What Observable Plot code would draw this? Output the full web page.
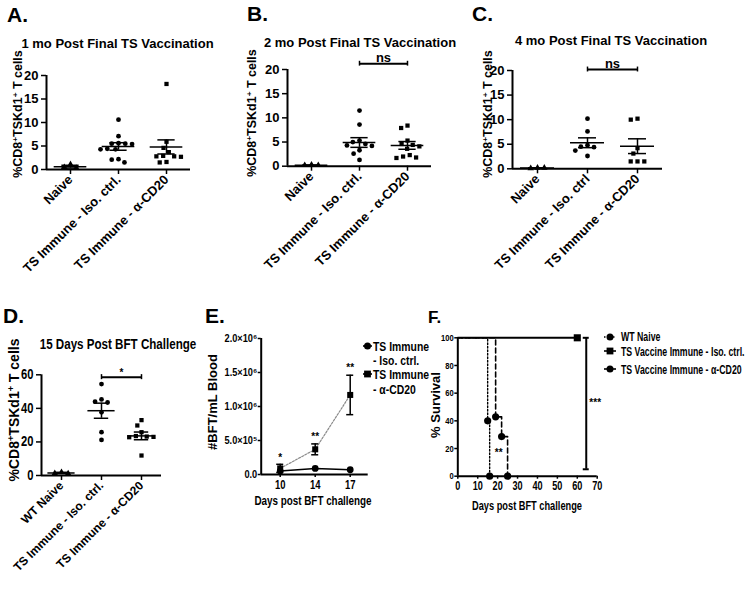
<!DOCTYPE html>
<html><head><meta charset="utf-8">
<script src="https://cdn.jsdelivr.net/npm/d3@7"></script>
<script src="https://cdn.jsdelivr.net/npm/@observablehq/plot@0.6"></script>
<style>
body{margin:0;background:#fff;}
#root{position:relative;width:750px;height:590px;overflow:hidden;background:#fff;font-family:'Liberation Sans',Arial,sans-serif;font-weight:bold;color:#000;}
.abs{position:absolute;white-space:nowrap;line-height:1;}
.abs sup{font-size:0.65em;line-height:0;vertical-align:0.5em;}
.chart{position:absolute;}
</style></head>
<body><div id="root"></div>
<script>
// ---------------- DATA ----------------
const catsA = ["Naive", "TS Immune - Iso. ctrl.", "TS Immune - α-CD20"];
const aNaive = [1.1, 0.5, 0.3];
const aIso = [10.6, 7.1, 5.6, 5.5, 5.5, 5.4, 4.4, 4.3, 4.3, 2.2, 2.1, 1.5];
const aCD20 = [18.2, 5.9, 4.6, 3.7, 2.9, 2.8, 2.8, 2.7, 1.6, 1.5];
const aMean = [0.6, 4.9, 4.8];
const aSem = [0.3, 0.8, 1.5];

const catsB = ["Naive", "TS Immune - Iso. ctrl.", "TS Immune - α-CD20"];
const bNaive = [0.3, 0.2, 0.2];
const bIso = [11.5, 8.6, 5.3, 5.0, 4.6, 4.3, 4.2, 3.3, 2.6, 1.3];
const bCD20 = [8.4, 7.9, 5.3, 4.6, 4.4, 4.1, 3.6, 2.3, 2.0, 1.8, 1.7];
const bMean = [0.2, 4.9, 4.3];
const bSem = [0.05, 1.0, 0.8];

const catsC = ["Naive", "TS Immune - Iso. ctrl", "TS Immune - α-CD20"];
const cNaive = [0.2, 0.1, 0.2];
const cIso = [10.2, 7.6, 4.8, 4.5, 4.4, 3.7, 2.6];
const cCD20 = [10.2, 10.0, 4.2, 3.1, 1.5, 1.5, 1.5];
const cMean = [0.15, 5.3, 4.6];
const cSem = [0.05, 1.0, 1.5];

const catsD = ["WT Naive", "TS Immune - Iso. ctrl.", "TS Immune - α-CD20"];
const dNaive = [2.0, 1.3, 1.2];
const dIso = [54.5, 45.3, 44.0, 43.5, 37.7, 25.8, 21.2];
const dCD20 = [33.0, 29.8, 25.8, 23.5, 23.2, 23.0, 22.8, 11.9];
const dMean = [1.5, 38.6, 23.6];
const dSem = [0.4, 4.5, 2.3];

const ticks20 = [0, 5, 10, 15, 20];
const ticks60 = [0, 20, 40, 60];

const eDays = [10, 14, 17];
const eIsoMean = [0.05e6, 0.09e6, 0.07e6];
const eCD20Mean = [0.09e6, 0.37e6, 1.17e6];
const eCD20Sem = [0.06e6, 0.08e6, 0.29e6];
const eSig = ["*", "**", "**"];
const eYTicks = [0, 5e5, 1e6, 1.5e6, 2e6];
const eYTickLabels = ["0.0", "5.0×10⁵", "1.0×10⁶", "1.5×10⁶", "2.0×10⁶"];

const fNaiveDays = [0, 15, 16];
const fNaiveSurv = [100, 40, 0];
const fIsoDays = [0, 60];
const fIsoSurv = [100, 100];
const fCD20Days = [0, 19, 22, 25];
const fCD20Surv = [100, 42.9, 28.6, 0];
const fXTicks = [0, 10, 20, 30, 40, 50, 60, 70];
const fYTicks = [0, 20, 40, 60, 80, 100];

// ---------------- HELPERS ----------------
const root = document.getElementById("root");
const SANS = "'Liberation Sans', Arial, sans-serif";

function txt(html, x, y, {size = 12, k = 1, align = "center", rotate = 0} = {}) {
  const d = document.createElement("div");
  d.className = "abs";
  d.innerHTML = html;
  d.style.left = x + "px";
  d.style.top = y + "px";
  d.style.fontSize = size + "px";
  const tx = align === "center" ? "-50%" : align === "right" ? "-100%" : "0";
  if (align === "left") d.style.transformOrigin = "0 50%";
  d.style.transform = `translate(${tx},-50%)` + (rotate ? ` rotate(${rotate}deg)` : "") + (k !== 1 ? ` scaleX(${k})` : "");
  root.appendChild(d);
}
function place(svg, left, top) {
  const d = document.createElement("div");
  d.className = "chart";
  d.style.left = left + "px";
  d.style.top = top + "px";
  d.appendChild(svg);
  root.appendChild(d);
  return svg;
}
// squeeze svg text horizontally (condensed lettering of the original figure)
function condense(nodes, k) {
  nodes.forEach(t => {
    const w = t.getComputedTextLength();
    if (w > 0) { t.setAttribute("textLength", (w * k).toFixed(2)); t.setAttribute("lengthAdjust", "spacingAndGlyphs"); }
  });
}
function legendSym(x, y, kind, dash, half = 6) {
  const d = document.createElement("div");
  d.className = "chart";
  d.style.left = (x - half) + "px";
  d.style.top = (y - 5) + "px";
  const shape = kind === "circle"
    ? `<circle cx="${half}" cy="5" r="3.5" fill="black"/>`
    : `<rect x="${half - 3.4}" y="1.6" width="6.8" height="6.8" fill="black"/>`;
  d.innerHTML = `<svg width="${2 * half}" height="10" style="overflow:visible;display:block">
    <line x1="0" y1="5" x2="${2 * half}" y2="5" stroke="black" stroke-width="1.6" ${dash ? `stroke-dasharray="${dash}"` : ""}/>${shape}</svg>`;
  root.appendChild(d);
}

function scatterPanel(o) {
  const {cats, groups, means, sems, yMax, yTicks, width, height, mL, mR, mT, mB,
         tickSize = 13, catSize = 13, sig, sigY, capH, sigSize = 13, sigDy = -2, r = 2.4} = o;
  const rows = [];
  groups.forEach((vals, gi) => vals.forEach(v => rows.push({g: cats[gi], gi, v})));
  const stats = cats.map((g, i) => ({g, mean: means[i], sem: sems[i]}));
  const symbols = ["triangle", "circle", "square"];
  const marks = [
    Plot.ruleY([0], {strokeWidth: 2}),
    Plot.ruleX([0], {fx: () => cats[0], x: () => -1, y1: () => 0, y2: () => yMax, strokeWidth: 2}),
    Plot.axisY({ticks: yTicks, tickSize: 5, tickPadding: 3, fontSize: tickSize, label: null, strokeWidth: 1.5}),
    Plot.axisFx({anchor: "bottom", tickRotate: -45, tickSize: 5, tickPadding: 3, fontSize: catSize, label: null, strokeWidth: 1.5}),
    Plot.ruleY(stats, {fx: "g", y: "mean", x1: () => -0.68, x2: () => 0.68, strokeWidth: 1.5}),
    Plot.ruleX(stats, {fx: "g", x: () => 0, y1: d => d.mean - d.sem, y2: d => d.mean + d.sem, strokeWidth: 1.5}),
    Plot.ruleY(stats, {fx: "g", y: d => d.mean + d.sem, x1: () => -0.36, x2: () => 0.36, strokeWidth: 1.5}),
    Plot.ruleY(stats, {fx: "g", y: d => d.mean - d.sem, x1: () => -0.36, x2: () => 0.36, strokeWidth: 1.5}),
    Plot.dot(rows, Plot.dodgeX({anchor: "middle", padding: 2, fx: "g", y: "v", r, fill: "black", stroke: "none", symbol: d => symbols[d.gi]}))
  ];
  if (sig) {
    marks.push(
      Plot.ruleY([sigY], {fx: () => cats[1], y: d => d, x1: () => 0, x2: () => 2, strokeWidth: 2}),
      Plot.ruleX([0, 2], {fx: () => cats[1], x: d => d, y1: () => sigY - capH, y2: () => sigY + capH, strokeWidth: 1.5}),
      Plot.text([sig], {fx: () => cats[1], x: () => 1, y: () => sigY, text: d => d, lineAnchor: "bottom", dy: sigDy, fontSize: sigSize})
    );
  }
  return Plot.plot({
    width, height, marginLeft: mL, marginRight: mR, marginTop: mT, marginBottom: mB,
    fx: {domain: cats, padding: 0, axis: null},
    x: {domain: [-1, 1], axis: null},
    y: {domain: [0, yMax], axis: null},
    style: {fontFamily: SANS, fontWeight: "bold", background: "none", overflow: "visible", color: "black"},
    marks
  });
}

// ---------------- PANEL A ----------------
place(scatterPanel({cats: catsA, groups: [aNaive, aIso, aCD20], means: aMean, sems: aSem, yMax: 20, yTicks: ticks20,
  width: 235, height: 250, mL: 45, mR: 45, mT: 35, mB: 121}), 0, 40);
txt("A.", 7, 14, {size: 21, align: "left"});
txt("1 mo Post Final TS Vaccination", 117.5, 43.3, {size: 13});
txt("%CD8<sup>+</sup>TSKd1<sup>+</sup> T cells", 17.5, 114, {size: 12.5, rotate: -90});

// ---------------- PANEL B ----------------
place(scatterPanel({cats: catsB, groups: [bNaive, bIso, bCD20], means: bMean, sems: bSem, yMax: 20, yTicks: ticks20,
  width: 230, height: 250, mL: 40.7, mR: 43.3, mT: 39, mB: 114.3, sig: "ns", sigY: 21.2, capH: 0.5, sigDy: -2}), 245, 30);
txt("B.", 247, 13, {size: 21, align: "left"});
txt("2 mo Post Final TS Vaccination", 360, 41.7, {size: 13});
txt("%CD8<sup>+</sup>TSKd1<sup>+</sup> T cells", 252, 113, {size: 12.5, rotate: -90});

// ---------------- PANEL C ----------------
place(scatterPanel({cats: catsC, groups: [cNaive, cIso, cCD20], means: cMean, sems: cSem, yMax: 20, yTicks: ticks20,
  width: 240, height: 250, mL: 41.7, mR: 48.3, mT: 40, mB: 111.7, sig: "ns", sigY: 20.2, capH: 0.5, sigDy: -2}), 470, 30);
txt("C.", 472, 13, {size: 21, align: "left"});
txt("4 mo Post Final TS Vaccination", 611, 40.3, {size: 13});
txt("%CD8<sup>+</sup>TSKd1<sup>+</sup> T cells", 488, 114, {size: 12.5, rotate: -90});

// ---------------- PANEL D ----------------
{
  const svg = place(scatterPanel({cats: catsD, groups: [dNaive, dIso, dCD20], means: dMean, sems: dSem, yMax: 60, yTicks: ticks60,
    width: 200, height: 260, mL: 40, mR: 37.7, mT: 44.3, mB: 115, tickSize: 14, catSize: 12,
    sig: "*", sigY: 58.6, capH: 1.5, sigSize: 10, sigDy: -1}), 0, 330);
  condense(svg.querySelectorAll('g[aria-label="y-axis tick label"] text'), 0.8);
}
txt("D.", 3, 314.5, {size: 21, align: "left"});
txt("15 Days Post BFT Challenge", 118, 343.8, {size: 14.5, k: 0.8});
txt("%CD8<sup>+</sup>TSKd1<sup>+</sup> T cells", 14, 410, {size: 14, rotate: -90});

// ---------------- PANEL E ----------------
{
  const isoRows = eDays.map((d, i) => ({i, v: eIsoMean[i]}));
  const cdRows = eDays.map((d, i) => ({i, v: eCD20Mean[i], s: eCD20Sem[i], sig: eSig[i]}));
  const x0 = -0.543;
  const svg = place(Plot.plot({
    width: 215, height: 190, marginLeft: 55.7, marginRight: 52.3, marginTop: 8, marginBottom: 46,
    x: {domain: [x0, 2.514], axis: null},
    y: {domain: [0, 2e6], axis: null},
    style: {fontFamily: SANS, fontWeight: "bold", background: "none", overflow: "visible", color: "black"},
    marks: [
      Plot.ruleY([0], {strokeWidth: 2}),
      Plot.ruleX([x0], {strokeWidth: 2}),
      Plot.axisY({ticks: eYTicks, tickFormat: d => eYTickLabels[eYTicks.indexOf(d)], tickSize: 3, tickPadding: 1, fontSize: 11.5, label: null, strokeWidth: 1.5}),
      Plot.axisX({ticks: [0, 1, 2], tickFormat: i => eDays[i], tickSize: 3, tickPadding: 1.5, fontSize: 13.5, label: null, strokeWidth: 1.5}),
      Plot.line(cdRows, {x: "i", y: "v", stroke: "#8a8a8a", strokeWidth: 1.2, strokeDasharray: "2,1.5"}),
      Plot.line(isoRows, {x: "i", y: "v", stroke: "black", strokeWidth: 1.5}),
      Plot.ruleX(cdRows, {x: "i", y1: d => d.v - d.s, y2: d => d.v + d.s, strokeWidth: 1.5}),
      Plot.ruleY(cdRows, {y: d => d.v + d.s, x1: d => d.i - 0.1, x2: d => d.i + 0.1, strokeWidth: 1.5}),
      Plot.ruleY(cdRows, {y: d => d.v - d.s, x1: d => d.i - 0.1, x2: d => d.i + 0.1, strokeWidth: 1.5}),
      Plot.dot(isoRows, {x: "i", y: "v", r: 3.4, fill: "black", stroke: "none"}),
      Plot.dot(cdRows, {x: "i", y: "v", r: 3.4, symbol: "square", fill: "black", stroke: "none"}),
      Plot.text(cdRows, {x: "i", y: d => d.v + d.s, text: "sig", dy: -7, fontSize: 10})
    ]
  }), 205, 330);
  condense(svg.querySelectorAll('g[aria-label="x-axis tick label"] text'), 0.7);
  condense(svg.querySelectorAll('g[aria-label="y-axis tick label"] text'), 0.8);
}
txt("E.", 205, 315, {size: 21, align: "left"});
txt("#BFT/mL Blood", 212, 401.7, {size: 13, rotate: -90});
txt("Days post BFT challenge", 313, 500.5, {size: 13.5, k: 0.73});
legendSym(367.5, 345.7, "circle", null, 4.5);
txt("TS Immune", 372.5, 345.7, {size: 13, k: 0.8, align: "left"});
txt("- Iso. ctrl.", 372.5, 360.2, {size: 13, k: 0.8, align: "left"});
legendSym(367.5, 373.8, "square", null, 4.5);
txt("TS Immune", 372.5, 373.8, {size: 13, k: 0.8, align: "left"});
txt("- α-CD20", 372.5, 388.7, {size: 13, k: 0.8, align: "left"});

// ---------------- PANEL F ----------------
{
  const naive = fNaiveDays.map((d, i) => ({d, s: fNaiveSurv[i]}));
  const iso = fIsoDays.map((d, i) => ({d, s: fIsoSurv[i]}));
  const cd = fCD20Days.map((d, i) => ({d, s: fCD20Surv[i]}));
  const svg = place(Plot.plot({
    width: 190, height: 200, marginLeft: 37.3, marginRight: 13.3, marginTop: 17.3, marginBottom: 44.3,
    x: {domain: [0, 70], axis: null},
    y: {domain: [0, 100], axis: null},
    style: {fontFamily: SANS, fontWeight: "bold", background: "none", overflow: "visible", color: "black"},
    marks: [
      Plot.ruleY([0], {strokeWidth: 2}),
      Plot.ruleX([0], {strokeWidth: 2}),
      Plot.axisX({ticks: fXTicks, tickSize: 3, tickPadding: 2, fontSize: 13, label: null, strokeWidth: 1.5}),
      Plot.axisY({ticks: fYTicks, tickSize: 3, tickPadding: 1, fontSize: 9.5, label: null, strokeWidth: 1.5}),
      Plot.line(iso, {x: "d", y: "s", curve: "step-after", strokeWidth: 2}),
      Plot.line(cd, {x: "d", y: "s", curve: "step-after", strokeWidth: 1.6, strokeDasharray: "5,3"}),
      Plot.line(naive, {x: "d", y: "s", curve: "step-after", strokeWidth: 1.4, strokeDasharray: "1.5,2"}),
      Plot.dot(naive.slice(1), {x: "d", y: "s", r: 3.6, fill: "black", stroke: "none"}),
      Plot.dot(cd.slice(1), {x: "d", y: "s", r: 3.6, fill: "black", stroke: "none"}),
      Plot.dot(iso.slice(1), {x: "d", y: "s", r: 4, symbol: "square", fill: "black", stroke: "none"}),
      Plot.ruleX([64.5], {y1: 5, y2: 100, strokeWidth: 2}),
      Plot.ruleY([5, 100], {x1: 63, x2: 66, strokeWidth: 2}),
      Plot.text(["***"], {x: () => 69, y: () => 53, text: d => d, fontSize: 10}),
      Plot.text(["**"], {x: () => 20.5, y: () => 17, text: d => d, fontSize: 10})
    ]
  }), 420, 320);
  condense(svg.querySelectorAll('g[aria-label="x-axis tick label"] text'), 0.7);
  condense(svg.querySelectorAll('g[aria-label="y-axis tick label"] text'), 0.8);
}
txt("F.", 428, 317, {size: 17, align: "left"});
txt("% Survival", 435, 405, {size: 13, rotate: -90});
txt("Days post BFT challenge", 527, 505.5, {size: 12.5, k: 0.74});
legendSym(610, 336.7, "circle", "1.5,1.5", 6);
txt("WT Naive", 620.7, 336.7, {size: 12.5, k: 0.7, align: "left"});
legendSym(610, 351, "square", null, 6);
txt("TS Vaccine Immune - Iso. ctrl.", 620.7, 351.5, {size: 12.5, k: 0.7, align: "left"});
legendSym(610, 369, "circle", null, 6);
txt("TS Vaccine Immune - α-CD20", 620.7, 369.5, {size: 12.5, k: 0.7, align: "left"});
</script></body></html>
